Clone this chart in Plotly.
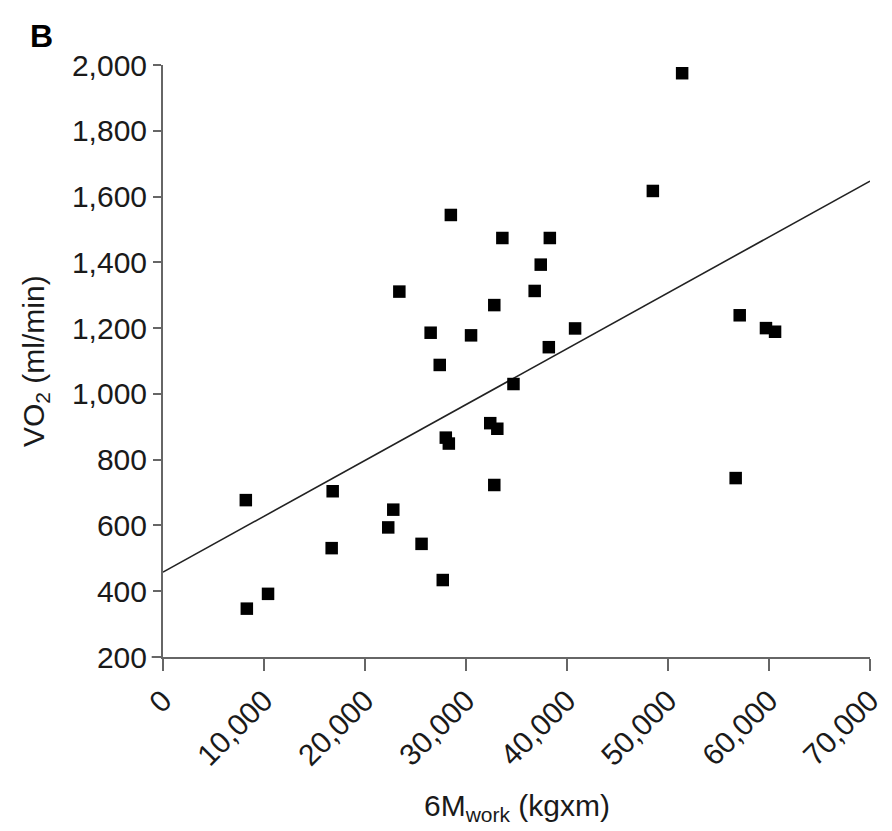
import plotly.graph_objects as go

# Data
work_kgxm = [8200, 8300, 10400, 16800, 16700, 22800, 22300, 25600, 27700, 26500,
             30500, 27400, 32800, 40800, 38200, 34700, 32400, 33100, 28000, 28300,
             32800, 56700, 57100, 59700, 60600, 51400, 48500, 28500, 33600, 38300,
             37400, 23400, 36800]
vo2_ml_min = [677, 347, 392, 704, 531, 648, 594, 544, 434, 1186,
              1178, 1088, 1270, 1199, 1142, 1030, 911, 894, 867, 849,
              723, 744, 1239, 1200, 1189, 1975, 1617, 1544, 1474, 1474,
              1393, 1311, 1313]

fit_x = [0, 70000]
fit_y = [458, 1647]

x_ticks = [0, 10000, 20000, 30000, 40000, 50000, 60000, 70000]
y_ticks = [200, 400, 600, 800, 1000, 1200, 1400, 1600, 1800, 2000]

FONT = "Liberation Sans, Arial, sans-serif"
AXIS_COLOR = "#666666"

fig = go.Figure()
fig.add_trace(go.Scatter(x=fit_x, y=fit_y, mode="lines",
                         line=dict(color="#222222", width=1.6),
                         showlegend=False, hoverinfo="skip"))
fig.add_trace(go.Scatter(x=work_kgxm, y=vo2_ml_min, mode="markers",
                         marker=dict(symbol="square", size=12.5, color="black",
                                     line=dict(width=0)),
                         showlegend=False))

fig.update_layout(
    width=892, height=831,
    margin=dict(l=163, r=22, t=65, b=174, autoexpand=False),
    plot_bgcolor="white", paper_bgcolor="white",
    font=dict(family=FONT, size=30, color="#1a1a1a"),
    xaxis=dict(range=[0, 70000], tickvals=x_ticks, tickformat=",d",
               tickangle=-45, showgrid=False, zeroline=False, automargin=False,
               ticklabeloverflow="allow",
               showline=True, linecolor=AXIS_COLOR, linewidth=2,
               ticks="outside", ticklen=12, tickwidth=2, tickcolor=AXIS_COLOR,
               tickfont=dict(size=30)),
    yaxis=dict(range=[200, 2000], tickvals=y_ticks, tickformat=",d",
               showgrid=False, zeroline=False, automargin=False,
               ticklabeloverflow="allow",
               showline=True, linecolor=AXIS_COLOR, linewidth=2,
               ticks="outside", ticklen=8, tickwidth=2, tickcolor=AXIS_COLOR,
               tickfont=dict(size=30)),
    shapes=[dict(type="line", xref="paper", yref="paper", x0=-0.016, x1=0,
                 y0=0, y1=0, line=dict(color=AXIS_COLOR, width=2))],
    annotations=[
        dict(text="<b>B</b>", xref="paper", yref="paper",
             x=-0.191, y=1.083, xanchor="left", yanchor="top",
             showarrow=False, font=dict(size=32, color="black")),
        dict(text="6M<sub>work</sub> (kgxm)", xref="paper", yref="paper",
             x=0.5, y=-0.255, xanchor="center", yanchor="middle",
             showarrow=False, font=dict(size=30)),
        dict(text="VO<sub>2</sub> (ml/min)", xref="paper", yref="paper",
             x=-0.181, y=0.5, xanchor="center", yanchor="middle", textangle=-90,
             showarrow=False, font=dict(size=30)),
    ],
)

fig.write_html("out.html",
               config={"displayModeBar": False},
               post_script="document.body.style.margin='0';"
                           "document.body.style.overflow='hidden';")
